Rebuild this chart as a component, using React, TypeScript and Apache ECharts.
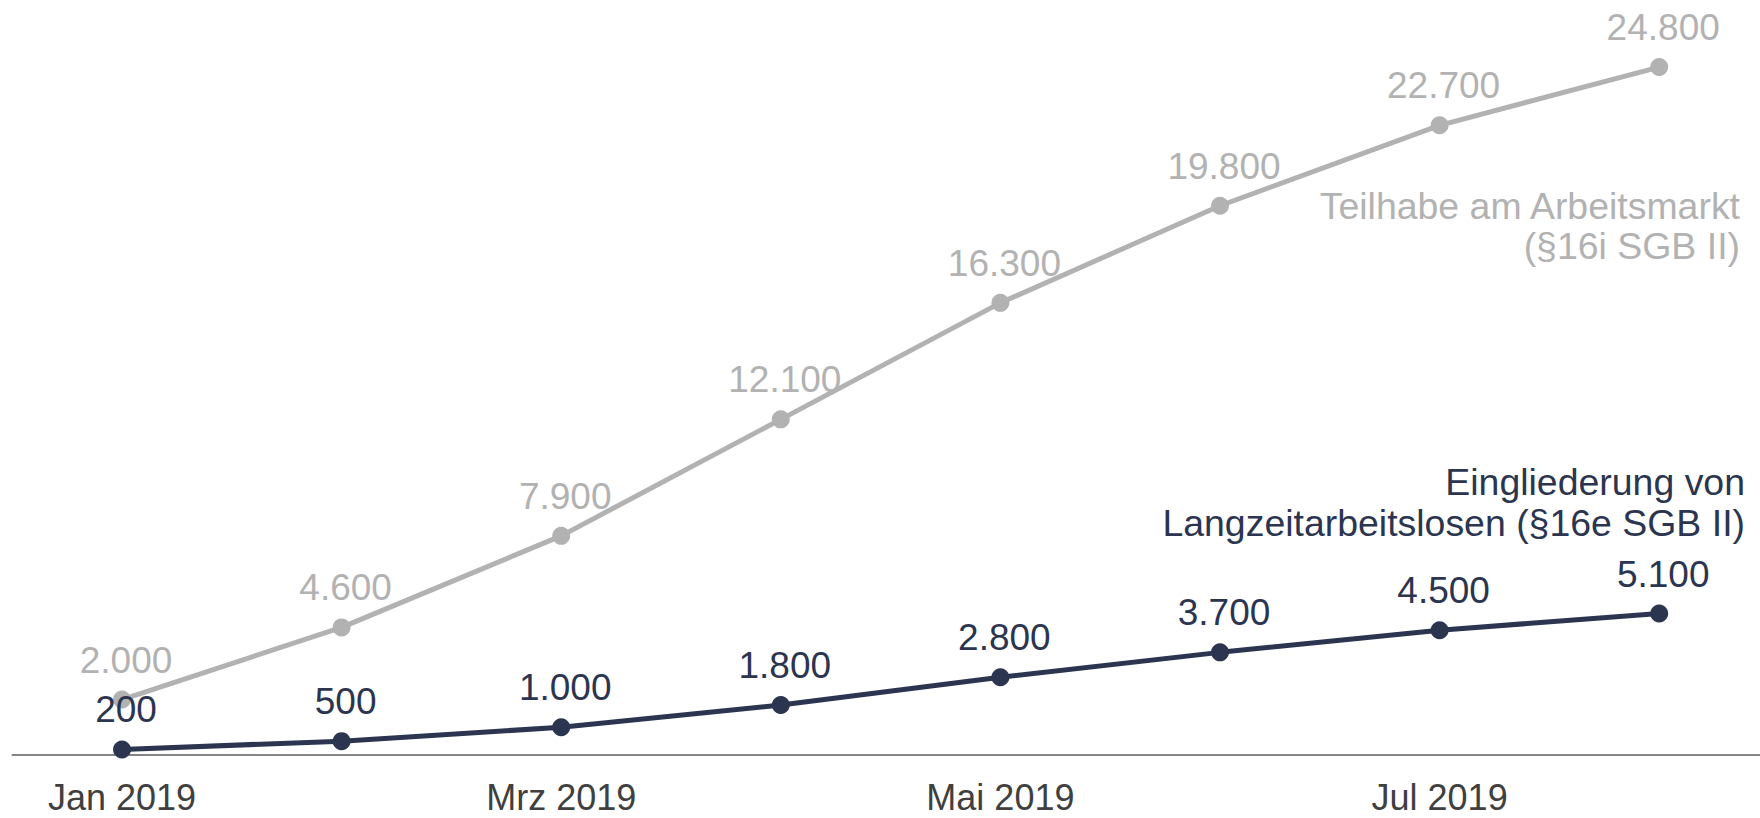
import React, { useEffect, useRef } from "react";
import * as echarts from "echarts";

const categories = ["Jan 2019", "Feb 2019", "Mrz 2019", "Apr 2019", "Mai 2019", "Jun 2019", "Jul 2019", "Aug 2019"];
const teilhabe = [2000, 4600, 7900, 12100, 16300, 19800, 22700, 24800];
const eingliederung = [200, 500, 1000, 1800, 2800, 3700, 4500, 5100];
const teilhabeName = "Teilhabe am Arbeitsmarkt\n(§16i SGB II)";
const eingliederungName = "Eingliederung von\nLangzeitarbeitslosen (§16e SGB II)";

const GREY = "#b2b2b2";
const NAVY = "#2c3550";
const FONT = "'Liberation Sans', Arial, sans-serif";

const fmt = (v: number) => String(v).replace(/\B(?=(\d{3})+(?!\d))/g, ".");

export default function App() {
  const ref = useRef<HTMLDivElement>(null);
  useEffect(() => {
    if (!ref.current) return;
    const chart = echarts.init(ref.current, null, { renderer: "svg" });
    const valueLabel = (color: string) => ({
      show: true,
      position: "top",
      distance: 12,
      offset: [4, 0],
      color,
      fontSize: 37,
      fontFamily: FONT,
      formatter: (p: any) => fmt(p.value),
    });
    chart.setOption({
      animation: false,
      backgroundColor: "#ffffff",
      textStyle: { fontFamily: FONT },
      grid: {
        left: 12.2,
        right: 0,
        top: 61.5,
        bottom: 63,
        containLabel: false,
        outerBoundsMode: "none",
      },
      xAxis: {
        type: "category",
        data: categories,
        boundaryGap: true,
        axisLine: { show: true, lineStyle: { color: "#5e5e5e", width: 1.5 } },
        axisTick: { show: false },
        axisLabel: {
          interval: 1,
          color: "#404040",
          fontSize: 36,
          lineHeight: 36,
          fontFamily: FONT,
          margin: 24,
        },
        splitLine: { show: false },
      },
      yAxis: {
        type: "value",
        min: 0,
        max: 25000,
        show: false,
        splitLine: { show: false },
      },
      series: [
        {
          name: "Teilhabe am Arbeitsmarkt (§16i SGB II)",
          type: "line",
          data: teilhabe,
          symbol: "circle",
          symbolSize: 18,
          itemStyle: { color: GREY },
          lineStyle: { color: GREY, width: 5 },
          label: valueLabel(GREY),
          z: 2,
        },
        {
          name: "Eingliederung von Langzeitarbeitslosen (§16e SGB II)",
          type: "line",
          data: eingliederung,
          symbol: "circle",
          symbolSize: 18,
          itemStyle: { color: NAVY },
          lineStyle: { color: NAVY, width: 5 },
          label: valueLabel(NAVY),
          z: 3,
        },
      ],
      graphic: [
        {
          type: "text",
          x: 1740,
          y: 187,
          scaleX: 1.04,
          style: {
            text: teilhabeName,
            fill: GREY,
            font: `36px ${FONT}`,
            textAlign: "right",
            textVerticalAlign: "top",
            align: "right",
            verticalAlign: "top",
            lineHeight: 40,
          },
        },
        {
          type: "text",
          x: 1745,
          y: 462,
          scaleX: 1.04,
          style: {
            text: eingliederungName,
            fill: NAVY,
            font: `36px ${FONT}`,
            textAlign: "right",
            textVerticalAlign: "top",
            align: "right",
            verticalAlign: "top",
            lineHeight: 41,
          },
        },
      ],
    });
    return () => chart.dispose();
  }, []);
  return (
    <div style={{ position: "absolute", left: 0, top: 0, width: 1760, height: 818, overflow: "hidden" }}>
      <div ref={ref} style={{ width: 1769, height: 818 }} />
    </div>
  );
}
